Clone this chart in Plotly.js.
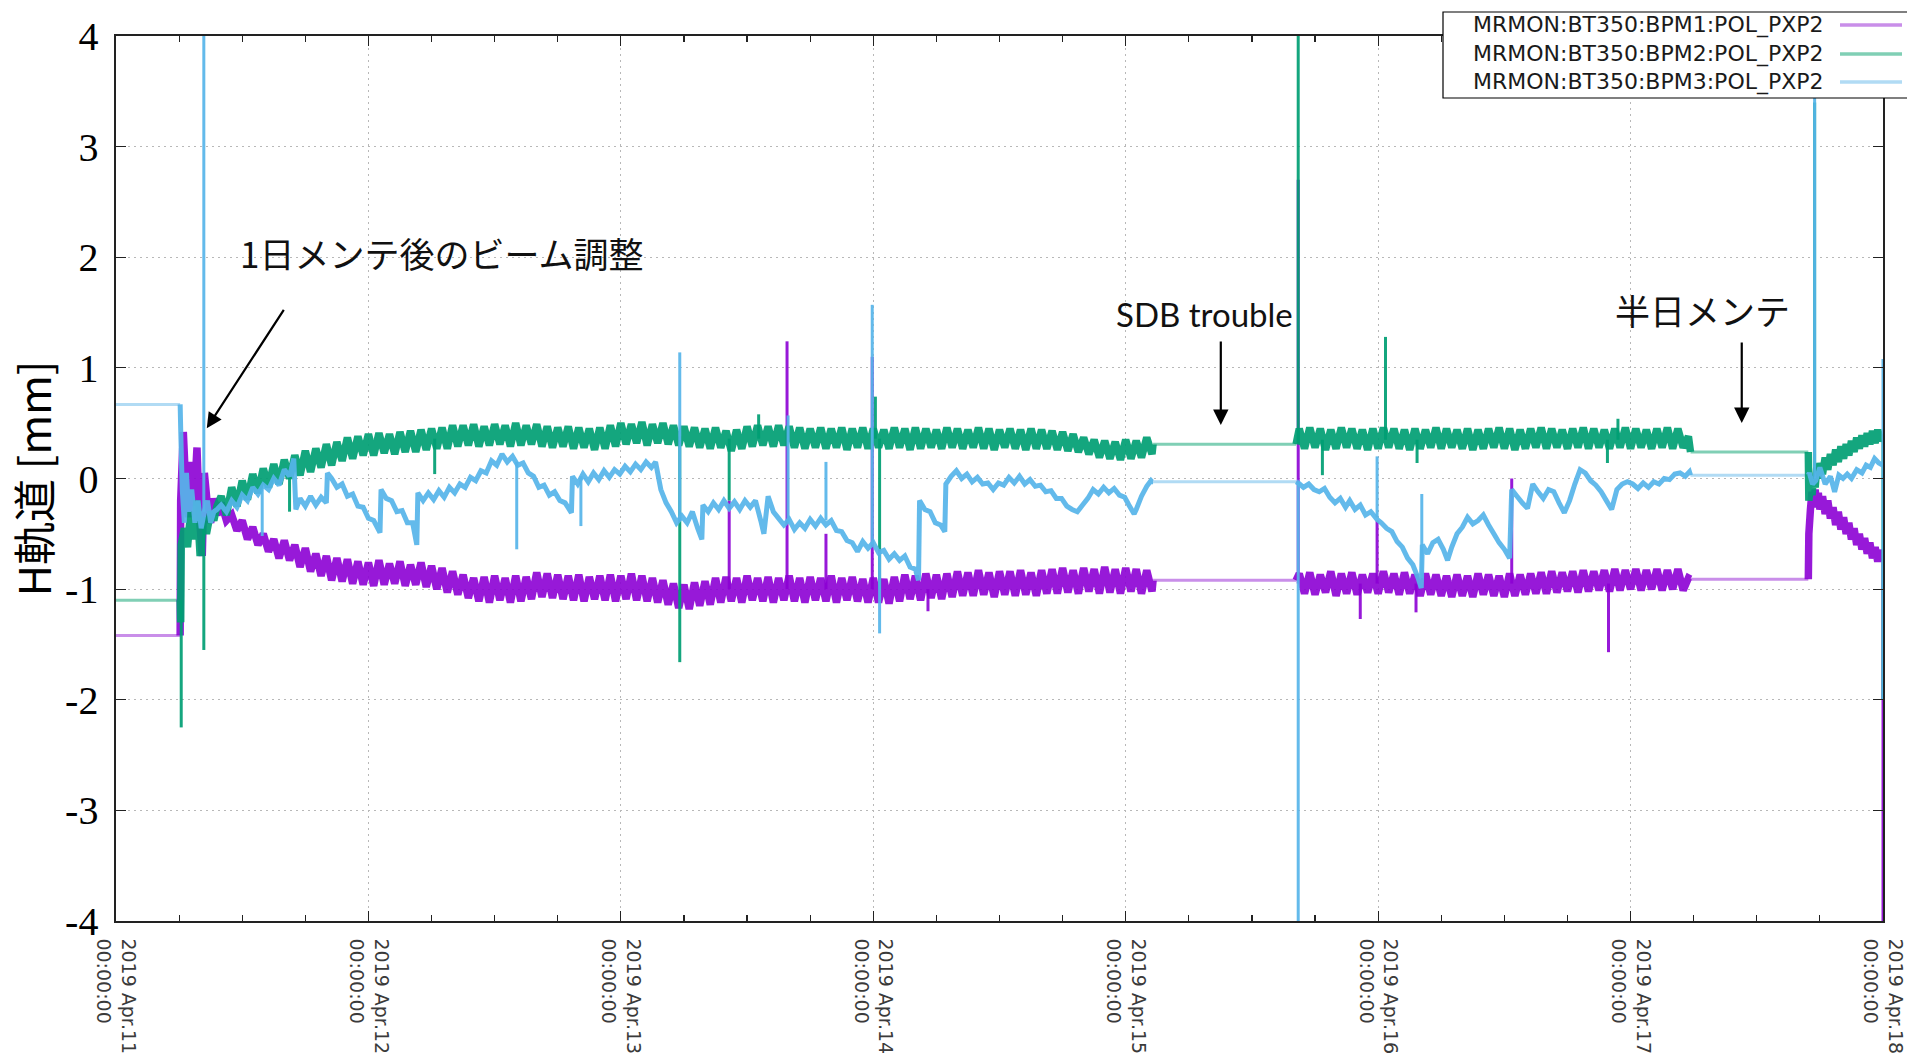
<!DOCTYPE html>
<html><head><meta charset="utf-8">
<script src="https://cdn.plot.ly/plotly-3.0.1.min.js"></script>
<style>html,body{margin:0;padding:0;background:#fff;}#chart{width:1907px;height:1060px;}</style>
</head><body><div id="chart"></div>
<script>
// Series names (legend)
const seriesNames = ['MRMON:BT350:BPM1:POL_PXP2','MRMON:BT350:BPM2:POL_PXP2','MRMON:BT350:BPM3:POL_PXP2'];
// x ticks: hours after 2019-04-11 00:00
const dayTicksH = [0,24,48,72,96,120,144,168];
const dayLabels = ['2019 Apr.11<br>00:00:00','2019 Apr.12<br>00:00:00','2019 Apr.13<br>00:00:00','2019 Apr.14<br>00:00:00','2019 Apr.15<br>00:00:00','2019 Apr.16<br>00:00:00','2019 Apr.17<br>00:00:00','2019 Apr.18<br>00:00:00'];
const yTickVals = [-4,-3,-2,-1,0,1,2,3,4];
const yTickText = ['-4','-3','-2','-1','0','1','2','3','4'];

// ---- BPM1 (H orbit, mm) ----
// holds (no beam / no update): [start h, end h, value]
const bpm1Holds = [[0,6.1,-1.42],[98.6,112.2,-0.92],[149.7,160.9,-0.91]];
// [hour, value]
const bpm1Early = [[6.15,-0.2],[6.4,0.42],[6.6,0.0],[6.9,-0.35],[7.2,0.15],[7.4,-0.25],[7.7,0.28],[7.9,-0.3],[8.2,-0.7],[8.4,0.05],[8.7,-0.25],[9.0,-0.4],[9.3,-0.18],[9.6,-0.33]];
// every 0.5 h from 10.0 to 98.5
const bpm1A = [-0.22,-0.38,-0.33,-0.47,-0.38,-0.55,-0.44,-0.60,-0.50,-0.66,-0.55,-0.72,-0.56,-0.74,-0.60,-0.80,-0.63,-0.84,-0.68,-0.88,
-0.70,-0.92,-0.72,-0.93,-0.73,-0.95,-0.75,-0.96,-0.76,-0.97,-0.74,-0.96,-0.77,-0.95,-0.75,-0.97,-0.78,-0.96,-0.76,-0.98,
-0.79,-1.00,-0.81,-1.03,-0.84,-1.05,-0.87,-1.08,-0.90,-1.11,-0.89,-1.12,-0.88,-1.10,-0.90,-1.12,-0.88,-1.11,-0.89,-1.09,
-0.85,-1.07,-0.86,-1.08,-0.87,-1.09,-0.88,-1.10,-0.87,-1.11,-0.89,-1.09,-0.88,-1.10,-0.87,-1.11,-0.88,-1.09,-0.86,-1.10,
-0.88,-1.11,-0.90,-1.12,-0.92,-1.14,-0.95,-1.17,-0.96,-1.18,-0.94,-1.15,-0.93,-1.14,-0.90,-1.12,-0.89,-1.11,-0.90,-1.12,
-0.88,-1.10,-0.90,-1.11,-0.89,-1.12,-0.90,-1.10,-0.88,-1.11,-0.90,-1.12,-0.89,-1.10,-0.90,-1.11,-0.88,-1.12,-0.90,-1.10,
-0.89,-1.11,-0.91,-1.12,-0.90,-1.12,-0.91,-1.13,-0.89,-1.11,-0.87,-1.09,-0.88,-1.10,-0.86,-1.08,-0.87,-1.09,-0.86,-1.07,
-0.84,-1.06,-0.85,-1.06,-0.83,-1.05,-0.85,-1.07,-0.84,-1.05,-0.84,-1.06,-0.83,-1.05,-0.85,-1.06,-0.83,-1.04,-0.82,-1.04,
-0.81,-1.03,-0.83,-1.04,-0.81,-1.02,-0.82,-1.04,-0.80,-1.03,-0.82,-1.04,-0.81,-1.02,-0.82,-1.04,-0.83,-1.02];
// every 0.5 h from 112.5 to 149.5
const bpm1B = [-0.86,-1.04,-0.85,-1.05,-0.87,-1.03,-0.84,-1.06,-0.86,-1.04,-0.85,-1.05,-0.87,-1.03,-0.86,-1.04,-0.84,-1.03,-0.86,-1.05,
-0.85,-1.04,-0.87,-1.06,-0.86,-1.05,-0.87,-1.06,-0.88,-1.07,-0.87,-1.06,-0.88,-1.07,-0.86,-1.05,-0.87,-1.06,-0.88,-1.07,
-0.86,-1.06,-0.87,-1.05,-0.86,-1.04,-0.85,-1.04,-0.84,-1.03,-0.85,-1.02,-0.84,-1.03,-0.83,-1.02,-0.84,-1.01,-0.83,-1.02,
-0.82,-1.01,-0.83,-1.00,-0.82,-1.01,-0.83,-1.00,-0.82,-1.01,-0.83,-1.00,-0.82,-1.01,-0.90];
const bpm1Late = [[160.95,-0.5],[161.1,-0.28],[161.25,-0.12],[161.4,-0.26],[161.55,-0.10],[161.7,-0.24],[161.85,-0.13],[162.0,-0.28],[162.25,-0.16],[162.5,-0.32],[162.75,-0.20],[163.0,-0.36],[163.25,-0.26],[163.5,-0.42],[163.75,-0.30],[164.0,-0.46],[164.25,-0.35],[164.5,-0.50],[164.75,-0.40],[165.0,-0.55],[165.25,-0.45],[165.5,-0.60],[165.75,-0.50],[166.0,-0.64],[166.25,-0.54],[166.5,-0.68],[166.75,-0.58],[167.0,-0.72],[167.25,-0.62],[167.5,-0.75],[167.75,-0.65],[168.0,-0.72]];

// ---- BPM2 ----
const bpm2Holds = [[0,6.1,-1.10],[98.6,112.2,0.31],[149.7,160.9,0.24]];
const bpm2Early = [[6.15,-1.3],[6.2,-0.6],[6.5,-0.45],[6.8,-0.62],[7.1,-0.3],[7.4,-0.55],[7.7,-0.2],[8.0,-0.7],[8.3,-0.35],[8.6,-0.5],[9.0,-0.3],[9.3,-0.38],[9.6,-0.25]];
const bpm2A = [-0.16,-0.33,-0.08,-0.25,-0.02,-0.19,0.04,-0.13,0.09,-0.08,0.13,-0.05,0.17,0.00,0.21,0.03,0.25,0.06,0.27,0.10,
0.31,0.12,0.33,0.16,0.37,0.18,0.38,0.21,0.40,0.21,0.41,0.23,0.40,0.22,0.42,0.24,0.43,0.24,0.44,0.26,
0.45,0.27,0.46,0.27,0.48,0.29,0.48,0.30,0.49,0.29,0.47,0.30,0.49,0.31,0.48,0.29,0.50,0.30,0.48,0.31,
0.49,0.29,0.47,0.28,0.46,0.29,0.47,0.27,0.46,0.28,0.45,0.26,0.46,0.27,0.48,0.29,0.50,0.31,0.49,0.32,
0.51,0.30,0.49,0.32,0.50,0.31,0.48,0.30,0.47,0.29,0.46,0.28,0.45,0.27,0.46,0.28,0.43,0.25,0.44,0.27,
0.47,0.29,0.48,0.30,0.47,0.29,0.48,0.30,0.47,0.28,0.46,0.27,0.45,0.28,0.46,0.27,0.45,0.28,0.46,0.26,
0.45,0.28,0.46,0.27,0.45,0.28,0.44,0.27,0.46,0.28,0.45,0.26,0.46,0.27,0.45,0.28,0.44,0.27,0.46,0.28,
0.45,0.27,0.44,0.28,0.46,0.27,0.45,0.26,0.44,0.28,0.45,0.27,0.44,0.26,0.45,0.27,0.44,0.27,0.43,0.26,
0.42,0.25,0.40,0.24,0.37,0.22,0.35,0.19,0.34,0.18,0.33,0.17,0.35,0.18,0.34,0.19,0.37,0.22];
const bpm2B = [0.45,0.27,0.46,0.28,0.45,0.26,0.44,0.27,0.46,0.28,0.45,0.27,0.44,0.26,0.45,0.27,0.46,0.28,0.45,0.27,
0.44,0.26,0.45,0.27,0.44,0.28,0.46,0.27,0.45,0.28,0.44,0.27,0.45,0.26,0.44,0.27,0.45,0.28,0.46,0.27,
0.45,0.26,0.44,0.27,0.45,0.28,0.46,0.27,0.45,0.28,0.44,0.27,0.45,0.28,0.46,0.27,0.45,0.28,0.44,0.27,
0.45,0.28,0.46,0.27,0.45,0.28,0.44,0.27,0.45,0.28,0.46,0.27,0.45,0.28,0.38];
const bpm2Late = [[160.95,-0.2],[161.1,-0.05],[161.25,-0.15],[161.4,0.02],[161.55,-0.08],[161.7,0.10],[161.85,0.0],[162.0,0.14],[162.25,0.04],[162.5,0.19],[162.75,0.08],[163.0,0.22],[163.25,0.12],[163.5,0.26],[163.75,0.15],[164.0,0.29],[164.25,0.18],[164.5,0.31],[164.75,0.21],[165.0,0.34],[165.25,0.24],[165.5,0.37],[165.75,0.27],[166.0,0.39],[166.25,0.29],[166.5,0.41],[166.75,0.31],[167.0,0.43],[167.25,0.32],[167.5,0.44],[167.75,0.34],[168.0,0.40]];

// ---- BPM3 ----
const bpm3Holds = [[0,6.1,0.67],[98.6,112.2,-0.03],[149.7,160.9,0.03]];
const bpm3Run1 = [[6.15,0.45],[6.3,-0.1],[6.5,-0.4],[6.7,0.05],[6.9,-0.3],[7.2,-0.1],[7.5,-0.4],[7.8,-0.2],[8.1,-0.45],[8.4,-0.3],[8.7,-0.2],[9.0,-0.4],[9.3,-0.3],[9.6,-0.28],
[10,-0.24],[10.5,-0.30],[11,-0.20],[11.5,-0.26],[12,-0.15],[12.5,-0.20],[13,-0.08],[13.5,-0.14],[14,-0.06],[14.5,-0.10],[15,0.00],[15.5,-0.06],[16,0.08],[16.5,0.02],[16.9,0.18],[17.1,-0.28],[17.5,-0.18],[18,-0.25],[18.5,-0.16],[19,-0.24],[19.5,-0.17],[20.0,-0.22],[20.1,0.05],[20.5,0.00],[21,-0.08],[21.5,-0.05],[22,-0.16],[22.5,-0.14],[23,-0.25],[23.5,-0.26],[24,-0.36],[24.5,-0.38],[25.1,-0.49],[25.2,-0.10],[25.7,-0.18],[26.2,-0.20],[26.7,-0.30],[27.2,-0.29],[27.7,-0.40],[28.2,-0.40],[28.6,-0.60],[28.7,-0.13],[29.2,-0.20],[29.7,-0.13],[30.2,-0.19],[30.7,-0.11],[31.2,-0.17],[31.7,-0.08],[32.2,-0.13],[32.7,-0.05],[33.2,-0.08],[33.7,0.01],[34.2,-0.02],[34.7,0.07],[35.2,0.05],[35.7,0.16],[36.2,0.12],[36.7,0.22],[37.2,0.15],[37.7,0.20],[38.2,0.12],[38.7,0.14],[39.2,0.05],[39.7,0.02],[40.2,-0.08],[40.7,-0.06],[41.2,-0.15],[41.7,-0.12],[42.2,-0.20],[42.7,-0.22],[43.3,-0.31],[43.4,0.02],[43.9,-0.05],[44.4,0.04],[44.9,-0.03],[45.4,0.05],[45.9,-0.01],[46.4,0.07],[46.9,0.01],[47.4,0.08],[47.9,0.04],[48.4,0.11],[48.9,0.06],[49.4,0.13],[49.9,0.08],[50.4,0.15],[50.9,0.10],[51.3,0.15],[51.8,-0.10],[52.3,-0.22],[52.8,-0.30],[53.3,-0.40],[53.8,-0.34],[54.3,-0.40],[54.8,-0.30],[55.3,-0.45],[55.7,-0.55],[55.8,-0.24],[56.3,-0.30],[56.8,-0.22],[57.3,-0.28],[57.8,-0.20],[58.3,-0.27],[58.8,-0.21],[59.3,-0.28],[59.8,-0.20],[60.3,-0.26],[60.8,-0.20],[61.3,-0.38],[61.6,-0.50],[62.0,-0.16],[62.5,-0.30],[63.0,-0.36],[63.5,-0.42],[64.0,-0.37],[64.5,-0.46],[65.0,-0.40],[65.5,-0.45],[66.0,-0.37],[66.5,-0.43],[67.0,-0.36],[67.5,-0.42],[68.0,-0.38],[68.5,-0.47],[69.0,-0.48],[69.5,-0.56],[70.0,-0.58],[70.5,-0.66],[71.0,-0.57],[71.5,-0.63],[72.0,-0.58],[72.5,-0.67],[73.0,-0.65],[73.5,-0.73],[74.0,-0.68],[74.5,-0.74],[75.0,-0.70],[75.5,-0.80],[76.0,-0.82],[76.3,-0.92],[76.4,-0.20],[76.9,-0.28],[77.4,-0.30],[77.9,-0.40],[78.4,-0.42],[78.8,-0.48],[78.9,-0.05],[79.4,0.02],[79.9,0.07],[80.4,0.00],[80.9,0.04],[81.4,-0.03],[81.9,0.01],[82.4,-0.05],[82.9,-0.04],[83.4,-0.10],[83.9,-0.04],[84.4,-0.06],[84.9,0.01],[85.4,-0.04],[85.9,0.02],[86.4,-0.05],[86.9,-0.01],[87.4,-0.07],[87.9,-0.06],[88.4,-0.12],[88.9,-0.11],[89.4,-0.18],[89.9,-0.18],[90.4,-0.25],[90.9,-0.28],[91.4,-0.30],[91.9,-0.24],[92.4,-0.18],[92.9,-0.10],[93.4,-0.14],[93.9,-0.08],[94.4,-0.13],[94.9,-0.09],[95.4,-0.15],[95.9,-0.17],[96.3,-0.24],[96.8,-0.32],[97.0,-0.28],[97.5,-0.16],[98.0,-0.07],[98.4,-0.02],[98.5,-0.03]];
const bpm3Run2 = [[112.4,-0.04],[112.9,-0.08],[113.4,-0.05],[113.9,-0.10],[114.4,-0.12],[114.9,-0.09],[115.4,-0.17],[115.9,-0.22],[116.4,-0.18],[116.9,-0.26],[117.3,-0.20],[117.8,-0.28],[118.3,-0.24],[118.8,-0.33],[119.3,-0.30],[119.9,-0.37],[120.3,-0.40],[120.8,-0.45],[121.3,-0.48],[121.8,-0.57],[122.3,-0.62],[122.8,-0.72],[123.3,-0.78],[123.8,-0.90],[124.1,-0.99],[124.2,-0.60],[124.7,-0.68],[125.2,-0.58],[125.7,-0.55],[126.2,-0.64],[126.6,-0.74],[127.0,-0.62],[127.5,-0.50],[128.0,-0.44],[128.5,-0.35],[129.0,-0.41],[129.5,-0.38],[130.0,-0.33],[130.5,-0.42],[131.0,-0.50],[131.5,-0.58],[132.0,-0.64],[132.5,-0.72],[132.7,-0.10],[133.2,-0.16],[133.7,-0.22],[134.2,-0.27],[134.7,-0.05],[135.2,-0.12],[135.7,-0.18],[136.2,-0.10],[136.7,-0.12],[137.2,-0.22],[137.7,-0.31],[138.2,-0.20],[138.7,-0.05],[139.2,0.08],[139.7,0.05],[140.2,-0.02],[140.7,-0.06],[141.2,-0.12],[141.7,-0.20],[142.2,-0.28],[142.7,-0.10],[143.2,-0.05],[143.7,-0.03],[144.2,-0.05],[144.7,-0.09],[145.2,-0.04],[145.7,-0.08],[146.2,-0.03],[146.7,-0.05],[147.2,0.00],[147.7,-0.01],[148.2,0.04],[148.7,0.05],[149.2,0.02],[149.6,0.06]];
const bpm3Late = [[161.0,0.05],[161.3,-0.05],[161.6,-0.02],[162.0,0.10],[162.5,-0.05],[163.0,0.02],[163.4,-0.12],[163.8,0.03],[164.2,0.00],[164.6,0.04],[165.0,0.00],[165.5,0.08],[166.0,0.05],[166.4,0.12],[166.8,0.10],[167.2,0.18],[167.6,0.14],[168.0,0.12]];

// spikes: [hours, from, to]
const bpm1Spikes = [[58.3,-1.0,-0.2],[63.8,-1.0,1.24],[67.5,-1.0,-0.5],[71.9,-1.0,1.1],[77.2,-1.0,-1.2],[112.4,-0.95,2.7],[118.3,-0.95,-1.27],[119.9,-0.95,-0.38],[123.6,-0.95,-1.21],[132.7,-0.95,0.0],[141.9,-0.95,-1.57],[168,-0.72,-4.0]];
const bpm2Spikes = [[6.2,-1.1,-2.25],[8.35,-0.4,-1.55],[16.5,0.1,-0.3],[30.3,0.36,0.04],[53.6,0.38,-1.66],[58.3,0.36,-0.2],[61.1,0.36,0.58],[72.2,0.36,0.74],[72.6,0.36,-1.0],[112.4,0.32,4.0],[114.7,0.35,0.03],[120.7,0.35,1.28],[123.7,0.35,0.14],[141.8,0.35,0.14],[142.8,0.35,0.54],[161.5,0.0,3.4],[168,0.35,-2.0]];
const bpm3Spikes = [[8.35,-0.3,4.0],[13.9,-0.1,-0.52],[38.1,0.15,-0.64],[44.2,0.02,-0.43],[53.6,-0.38,1.14],[63.9,-0.4,0.57],[67.5,-0.38,0.15],[71.9,-0.6,1.57],[72.6,-0.65,-1.4],[112.4,-0.03,-4.0],[119.9,-0.35,0.2],[124.15,-0.9,-0.14],[161.5,0.0,4.0],[168,0.12,1.08],[168,0.12,-2.0]];

const colors = ['rgba(140,0,212,0.9)','rgba(0,158,115,0.92)','rgba(86,180,233,0.92)'];
const lightColors = ['#c98ee9','#80cfb5','#b1dbf4'];
const widths = [7.5,7.5,5];

const T0 = Date.UTC(2019,3,11);
function toDate(h){ return new Date(T0 + Math.round(h*3600000)).toISOString().slice(0,19).replace('T',' '); }
const grid = (t0,vals)=>vals.map((v,i)=>[t0+0.5*i,v]);
const holdPts = h=>[[h[0],h[2]],[h[1],h[2]]];

function build(pairs, spikes, name, col, light, w){
  const nx=[], ny=[], hx=[], hy=[], sx=[], sy=[];
  for (let i=0;i<pairs.length;i++){
    const t=pairs[i][0], v=pairs[i][1];
    if (i>0 && t-pairs[i-1][0] > 3){
      nx.push(null); ny.push(null);
      hx.push(toDate(pairs[i-1][0]), toDate(t), null);
      hy.push(pairs[i-1][1], v, null);
    }
    nx.push(toDate(t)); ny.push(v);
  }
  spikes.forEach(s=>{ sx.push(toDate(s[0]),toDate(s[0]),null); sy.push(s[1],s[2],null); });
  return {
    hold:{x:hx,y:hy,type:'scatter',mode:'lines',name:name,line:{color:light,width:3},showlegend:false,hoverinfo:'skip'},
    noisy:{x:nx,y:ny,type:'scatter',mode:'lines',name:name,line:{color:col,width:w,simplify:false},showlegend:false,connectgaps:false},
    spk:{x:sx,y:sy,type:'scatter',mode:'lines',name:name,line:{color:col,width:3},showlegend:false,hoverinfo:'skip'}
  };
}
const p1 = [].concat(holdPts(bpm1Holds[0]), bpm1Early, grid(10,bpm1A), holdPts(bpm1Holds[1]), grid(112.5,bpm1B), holdPts(bpm1Holds[2]), bpm1Late);
const p2 = [].concat(holdPts(bpm2Holds[0]), bpm2Early, grid(10,bpm2A), holdPts(bpm2Holds[1]), grid(112.5,bpm2B), holdPts(bpm2Holds[2]), bpm2Late);
const p3 = [].concat(holdPts(bpm3Holds[0]), bpm3Run1, holdPts(bpm3Holds[1]), bpm3Run2, holdPts(bpm3Holds[2]), bpm3Late);
const s1 = build(p1,bpm1Spikes,seriesNames[0],colors[0],lightColors[0],widths[0]);
const s2 = build(p2,bpm2Spikes,seriesNames[1],colors[1],lightColors[1],widths[1]);
const s3 = build(p3,bpm3Spikes,seriesNames[2],colors[2],lightColors[2],widths[2]);
const data = [s1.hold,s2.hold,s3.hold,s1.noisy,s1.spk,s2.noisy,s2.spk,s3.noisy,s3.spk];

// pixel helpers for paper placement (plot area 116..1883 x 36..921)
const L=116,R=1883,TOP=36,BOT=921;
const px=x=>(x-L)/(R-L), py=y=>(BOT-y)/(BOT-TOP);

const annFont = {family:'Noto Sans CJK JP, Noto Sans, sans-serif', size:35, color:'#111'};
const annotations = [
  {xref:'paper',yref:'paper',x:px(441),y:py(253),text:'1日メンテ後のビーム調整',showarrow:false,font:annFont,xanchor:'center',yanchor:'middle'},
  {xref:'x',yref:'y',x:toDate(8.63),y:0.454,ax:78,ay:-120,text:'',showarrow:true,arrowhead:2,arrowsize:1.4,arrowwidth:2.2,arrowcolor:'#000'},
  {xref:'paper',yref:'paper',x:px(1204),y:py(314),text:'SDB trouble',showarrow:false,font:{family:'Lato, Open Sans, sans-serif',size:33,color:'#111'},xanchor:'center',yanchor:'middle'},
  {xref:'x',yref:'y',x:toDate(105.04),y:0.484,ax:0,ay:-85,text:'',showarrow:true,arrowhead:2,arrowsize:1.4,arrowwidth:2.2,arrowcolor:'#000'},
  {xref:'paper',yref:'paper',x:px(1702),y:py(309),text:'半日メンテ',showarrow:false,font:annFont,xanchor:'center',yanchor:'middle'},
  {xref:'x',yref:'y',x:toDate(154.57),y:0.502,ax:0,ay:-82,text:'',showarrow:true,arrowhead:2,arrowsize:1.4,arrowwidth:2.2,arrowcolor:'#000'}
];
const legRows=[25,54,82];
const shapes=[{type:'rect',xref:'paper',yref:'paper',x0:px(1443),x1:px(1930),y0:py(98),y1:py(12),line:{color:'#000',width:1.2},fillcolor:'#fff',layer:'above'}];
seriesNames.forEach((n,i)=>{
  annotations.push({xref:'paper',yref:'paper',x:px(1826),y:py(legRows[i]),text:n,showarrow:false,xanchor:'right',yanchor:'middle',font:{family:'DejaVu Sans',size:22,color:'#1a1a1a'}});
  shapes.push({type:'line',xref:'paper',yref:'paper',x0:px(1840),x1:px(1902),y0:py(legRows[i]),y1:py(legRows[i]),line:{color:lightColors[i],width:3.5},layer:'above'});
});

const layout = {
  width:1907,height:1060,
  margin:{l:L,r:1907-R,t:TOP,b:1060-BOT,pad:0},
  paper_bgcolor:'#fff',plot_bgcolor:'#fff',
  showlegend:false,
  xaxis:{type:'date',range:[toDate(0),toDate(168)],tickvals:dayTicksH.map(toDate),ticktext:dayLabels,tickangle:90,
    tickfont:{family:'DejaVu Sans',size:19,color:'#3a3a3a'},ticks:'inside',ticklen:10,tickwidth:1.2,tickcolor:'#222',
    ticklabelstandoff:12,ticklabeloverflow:'allow',
    minor:{tick0:toDate(0),dtick:21600000,ticks:'inside',ticklen:6,tickwidth:1.2,tickcolor:'#222',showgrid:false},
    showline:true,linecolor:'#222',linewidth:1.6,mirror:'ticks',
    showgrid:true,gridcolor:'#b8b8b8',griddash:'2px,4px',gridwidth:1,zeroline:false,automargin:false,fixedrange:true},
  yaxis:{range:[-4,4],tickvals:yTickVals,ticktext:yTickText,tickfont:{family:'Liberation Serif, serif',size:40,color:'#000'},
    ticks:'inside',ticklen:10,tickwidth:1.2,tickcolor:'#222',ticklabelstandoff:8,
    showline:true,linecolor:'#222',linewidth:1.6,mirror:'ticks',
    showgrid:true,gridcolor:'#b8b8b8',griddash:'2px,4px',gridwidth:1,zeroline:false,automargin:false,fixedrange:true,
    title:{text:'H軌道 [mm]',font:{family:'Noto Sans CJK JP, sans-serif',size:43,color:'#000'},standoff:0}},
  annotations:annotations,
  shapes:shapes
};
Plotly.newPlot('chart',data,layout,{displayModeBar:false,staticPlot:true});
</script></body></html>
